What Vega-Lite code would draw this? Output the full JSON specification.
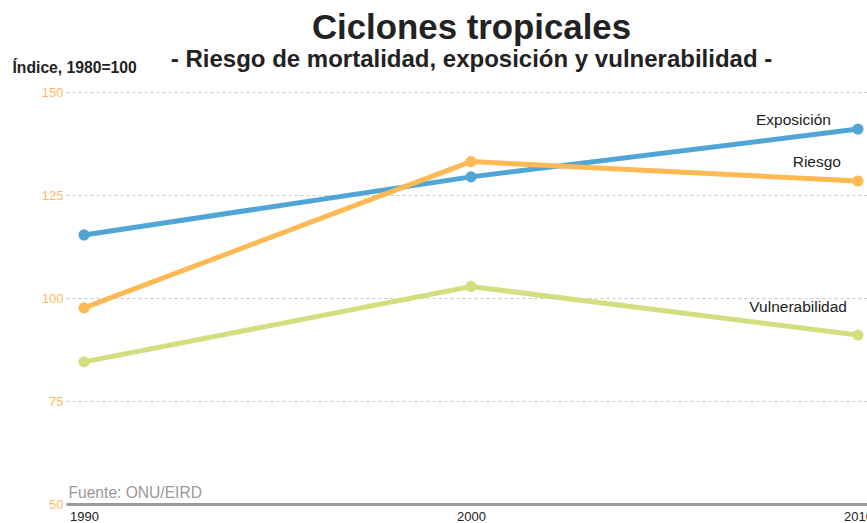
{
  "$schema": "https://vega.github.io/schema/vega-lite/v6.json",
  "autosize": {"type": "none"},
  "width": 801,
  "height": 412,
  "padding": {"left": 66, "top": 92, "right": 0, "bottom": 19},
  "background": "white",
  "config": {"view": {"stroke": null}, "font": "Liberation Sans"},
  "title": {
    "text": "Ciclones tropicales",
    "subtitle": "- Riesgo de mortalidad, exposición y vulnerabilidad -",
    "font": "Liberation Sans",
    "subtitleFont": "Liberation Sans",
    "fontSize": 34.8,
    "subtitleFontSize": 24,
    "fontWeight": "bold",
    "subtitleFontWeight": "bold",
    "color": "#222222",
    "subtitleColor": "#222222",
    "anchor": "middle",
    "frame": "group",
    "dx": 5,
    "offset": -14,
    "subtitlePadding": 1
  },
  "data": {
    "values": [
      {"serie": "Exposición", "year": 1990, "value": 115.3},
      {"serie": "Exposición", "year": 2000, "value": 129.4},
      {"serie": "Exposición", "year": 2010, "value": 141.0},
      {"serie": "Vulnerabilidad", "year": 1990, "value": 84.5},
      {"serie": "Vulnerabilidad", "year": 2000, "value": 102.8},
      {"serie": "Vulnerabilidad", "year": 2010, "value": 91.0},
      {"serie": "Riesgo", "year": 1990, "value": 97.6},
      {"serie": "Riesgo", "year": 2000, "value": 133.1},
      {"serie": "Riesgo", "year": 2010, "value": 128.4}
    ]
  },
  "encoding": {
    "x": {
      "field": "year",
      "type": "quantitative",
      "scale": {"domain": [1989.535, 2010.233], "nice": false, "zero": false},
      "axis": {
        "values": [1990, 2000, 2010],
        "format": "d",
        "labelFlush": false,
        "labelOverlap": false,
        "grid": false,
        "ticks": false,
        "domainColor": "#999999",
        "domainWidth": 3,
        "labelPadding": 6,
        "labelFontSize": 13,
        "labelColor": "#222222",
        "labelFont": "Liberation Sans",
        "title": "Fuente: ONU/EIRD",
        "titleX": 2,
        "titleY": -7,
        "titleAlign": "left",
        "titleAnchor": null,
        "titleBaseline": "alphabetic",
        "titleColor": "#999999",
        "titleFontSize": 15.6,
        "titleFontWeight": "normal",
        "titleFont": "Liberation Sans"
      }
    },
    "y": {
      "field": "value",
      "type": "quantitative",
      "scale": {"domain": [50, 150], "nice": false, "zero": false},
      "axis": {
        "values": [50, 75, 100, 125, 150],
        "domain": false,
        "ticks": false,
        "labelPadding": 3,
        "labelFontSize": 13,
        "labelColor": "#FDBA5C",
        "labelFont": "Liberation Sans",
        "grid": true,
        "gridDash": [3, 3],
        "gridColor": "#c8c8c8",
        "gridWidth": 1,
        "title": "Índice, 1980=100",
        "titleAngle": 0,
        "titleX": -54,
        "titleY": -20,
        "titleAlign": "left",
        "titleAnchor": null,
        "titleBaseline": "alphabetic",
        "titleFontSize": 15.7,
        "titleFontWeight": "bold",
        "titleColor": "#222222",
        "titleFont": "Liberation Sans"
      }
    }
  },
  "layer": [
    {
      "mark": {"type": "line", "strokeWidth": 5, "point": {"filled": true, "size": 125, "opacity": 1}},
      "encoding": {
        "color": {
          "field": "serie",
          "type": "nominal",
          "sort": ["Exposición", "Vulnerabilidad", "Riesgo"],
          "scale": {"domain": ["Exposición", "Vulnerabilidad", "Riesgo"], "range": ["#4FA6D6", "#D4DE7E", "#FDB954"]},
          "legend": null
        }
      }
    },
    {
      "transform": [{"filter": "datum.year == 2010 && datum.serie == 'Exposición'"}],
      "mark": {"type": "text", "align": "right", "baseline": "alphabetic", "dx": -27, "dy": -4, "fontSize": 15.5, "color": "#222222", "font": "Liberation Sans"},
      "encoding": {"text": {"field": "serie"}}
    },
    {
      "transform": [{"filter": "datum.year == 2010 && datum.serie == 'Riesgo'"}],
      "mark": {"type": "text", "align": "right", "baseline": "alphabetic", "dx": -17, "dy": -14, "fontSize": 15.5, "color": "#222222", "font": "Liberation Sans"},
      "encoding": {"text": {"field": "serie"}}
    },
    {
      "transform": [{"filter": "datum.year == 2010 && datum.serie == 'Vulnerabilidad'"}],
      "mark": {"type": "text", "align": "right", "baseline": "alphabetic", "dx": -11, "dy": -23, "fontSize": 15.5, "color": "#222222", "font": "Liberation Sans"},
      "encoding": {"text": {"field": "serie"}}
    }
  ]
}
